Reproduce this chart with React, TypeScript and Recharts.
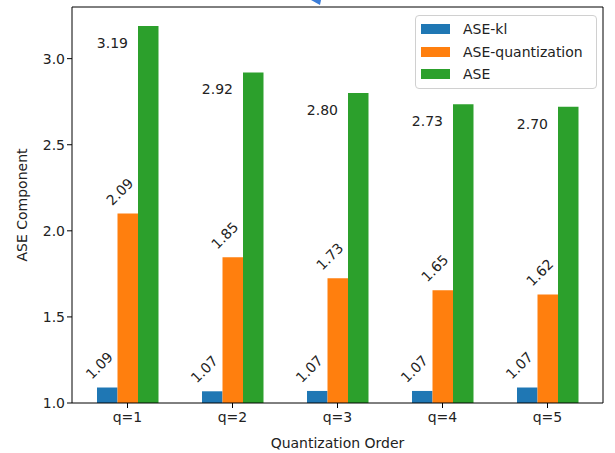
import { BarChart, Bar, XAxis, YAxis, LabelList, Label } from "recharts";

const categories = ["q=1", "q=2", "q=3", "q=4", "q=5"];
const aseKl = [1.09, 1.068, 1.07, 1.07, 1.09];
const aseQuant = [2.1, 1.846, 1.724, 1.655, 1.63];
const aseTotal = [3.19, 2.92, 2.8, 2.735, 2.72];
const klLabels = ["1.09", "1.07", "1.07", "1.07", "1.07"];
const quantLabels = ["2.09", "1.85", "1.73", "1.65", "1.62"];
const totalLabels = ["3.19", "2.92", "2.80", "2.73", "2.70"];
const yTicks = [1.0, 1.5, 2.0, 2.5, 3.0];

const series = [
  { key: "kl", name: "ASE-kl", color: "#1f77b4" },
  { key: "quant", name: "ASE-quantization", color: "#ff7f0e" },
  { key: "total", name: "ASE", color: "#2ca02c" },
];

const data = categories.map((q, i) => ({
  q,
  kl: aseKl[i],
  quant: aseQuant[i],
  total: aseTotal[i],
  klLabel: klLabels[i],
  quantLabel: quantLabels[i],
  totalLabel: totalLabels[i],
}));

const FONT = "'DejaVu Sans', sans-serif";
const TEXT = "#222";

// blue / orange values: tilted 45deg above the bar
const RotatedLabel = (props: any) => {
  const { x, y, width, value } = props;
  const cx = x + width / 2 - 8;
  const cy = y - 22;
  return (
    <text
      x={cx}
      y={cy}
      fill={TEXT}
      fontSize={14}
      fontFamily={FONT}
      textAnchor="middle"
      dominantBaseline="central"
      transform={`rotate(-45 ${cx} ${cy})`}
    >
      {value}
    </text>
  );
};

// green values sit to the left of the bar top
const SideLabel = (props: any) => {
  const { x, y, value } = props;
  return (
    <text
      x={x - 10}
      y={y + 17}
      fill={TEXT}
      fontSize={14}
      fontFamily={FONT}
      textAnchor="end"
      dominantBaseline="central"
    >
      {value}
    </text>
  );
};

export default function App() {
  return (
    <div style={{ position: "absolute", left: 0, top: 0, width: 615, height: 453, background: "#fff" }}>
      <BarChart
        width={615}
        height={453}
        data={data}
        margin={{ top: 6, right: 11, left: 0, bottom: 0 }}
        barGap={0}
        barSize={20.5}
      >
        <XAxis
          dataKey="q"
          padding={{ left: 3, right: 3 }}
          height={50}
          tickSize={5}
          axisLine={{ stroke: "#000" }}
          tickLine={{ stroke: "#000" }}
          tick={{ fill: TEXT, fontSize: 14, fontFamily: FONT, dy: 2 }}
        >
          <Label
            value="Quantization Order"
            position="insideBottom"
            offset={5}
            fill={TEXT}
            fontSize={14}
            fontFamily={FONT}
          />
        </XAxis>
        <XAxis xAxisId="top" dataKey="q" orientation="top" height={1} tick={false} tickLine={false} axisLine={{ stroke: "#000" }} />
        <YAxis
          domain={[1, 3.3]}
          ticks={yTicks}
          width={72}
          tickSize={5}
          allowDataOverflow
          axisLine={{ stroke: "#000" }}
          tickLine={{ stroke: "#000" }}
          tickFormatter={(v: number) => v.toFixed(1)}
          tick={{ fill: TEXT, fontSize: 14, fontFamily: FONT }}
        >
          <Label
            value="ASE Component"
            angle={-90}
            position="center"
            dx={-14}
            fill={TEXT}
            fontSize={14}
            fontFamily={FONT}
          />
        </YAxis>
        <YAxis yAxisId="r" orientation="right" width={1} domain={[1, 3.3]} tick={false} tickLine={false} axisLine={{ stroke: "#000" }} />
        <Bar dataKey="kl" name="ASE-kl" fill="#1f77b4" isAnimationActive={false}>
          <LabelList dataKey="klLabel" content={<RotatedLabel />} />
        </Bar>
        <Bar dataKey="quant" name="ASE-quantization" fill="#ff7f0e" isAnimationActive={false}>
          <LabelList dataKey="quantLabel" content={<RotatedLabel />} />
        </Bar>
        <Bar dataKey="total" name="ASE" fill="#2ca02c" isAnimationActive={false}>
          <LabelList dataKey="totalLabel" content={<SideLabel />} />
        </Bar>
      </BarChart>
      <div
        style={{
          position: "absolute",
          left: 415,
          top: 15,
          width: 175,
          border: "1px solid #d0d0d0",
          borderRadius: 4,
          background: "rgba(255,255,255,0.8)",
          padding: "2px 0 2px 5px",
          fontFamily: FONT,
          fontSize: 14,
          color: TEXT,
        }}
      >
        {series.map((s) => (
          <div key={s.key} style={{ display: "flex", alignItems: "center", height: 22.5 }}>
            <span style={{ width: 29, height: 10, background: s.color, marginRight: 13 }} />
            <span>{s.name}</span>
          </div>
        ))}
      </div>
      <svg width={14} height={6} style={{ position: "absolute", left: 311, top: 0 }}>
        <polygon points="0,0 10,0 9,5" fill="#3b7dd8" />
      </svg>
    </div>
  );
}
